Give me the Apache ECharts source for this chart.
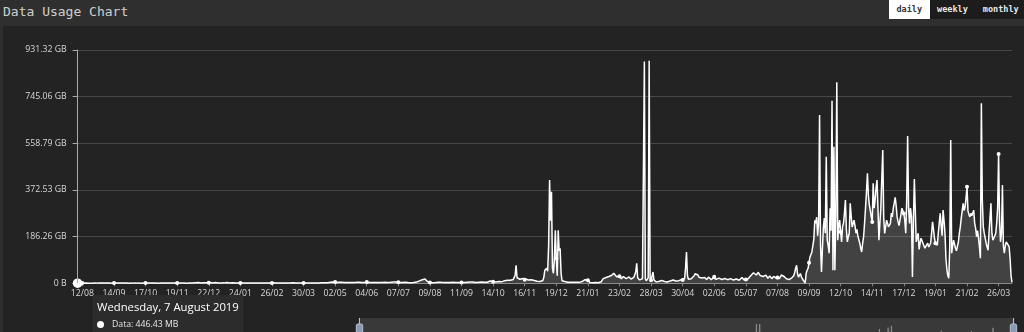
<!DOCTYPE html>
<html>
<head>
<meta charset="utf-8">
<script src="https://cdn.jsdelivr.net/npm/echarts@6/dist/echarts.min.js"></script>
<style>
html,body{margin:0;padding:0;width:1024px;height:332px;overflow:hidden;background:#2f2f2f;}
#title{position:absolute;left:3px;top:4px;font:13px 'DejaVu Sans Mono',monospace;color:#cfcfcf;line-height:15px;white-space:pre;}
#btns{position:absolute;left:889px;top:0;height:19px;display:flex;background:#1c1c1c;width:200px;}
#btns span{display:block;padding:0 7.5px;font:bold 8.5px 'DejaVu Sans Mono',monospace;line-height:19px;color:#e8e8e8;}
#btns span.on{background:#fff;color:#333;}
#chart{position:absolute;left:3px;top:26px;width:1021px;height:345px;background:#232323;}
</style>
</head>
<body>
<div id="title">Data Usage Chart</div>
<div id="btns"></div>
<div id="chart"></div>
<script>
// ---- data ----
const chartTitle = 'Data Usage Chart';
const periodButtons = ['daily', 'weekly', 'monthly'];
const activeButton = 'daily';
const firstDay = [2019, 7, 7];          // 7 August 2019 (year, monthIndex, day)
const labelEvery = 33;                  // one axis label every 33 days
const labelFirstIndex = 5;              // first labelled day: 12/08
const yMaxBytes = 1e12;
const yStepBytes = 2e11;
const weekdayNames = ['Sunday','Monday','Tuesday','Wednesday','Thursday','Friday','Saturday'];
const monthNames = ['January','February','March','April','May','June','July','August','September','October','November','December'];
// daily usage in GiB, one value per day from 7 Aug 2019
const usageGB = [
0.43597,0.6,0.8,0.5,0.7,1.1,0.6,0.9,0.5,0.8,1.2,0.7,0.6,0.9,1.0,0.5,0.8,0.7,1.3,0.6,
0.9,0.7,0.5,1.0,0.8,0.6,1.1,0.7,0.9,0.5,0.8,1.2,0.6,0.7,1.0,0.9,0.5,0.8,0.7,1.1,
0.6,0.9,0.8,0.5,1.0,0.7,1.3,0.6,0.8,0.9,0.5,0.7,1.1,0.8,0.6,0.9,1.0,0.7,0.5,0.8,
1.2,0.6,0.9,0.7,0.8,1.0,0.5,0.7,1.1,0.9,0.6,0.8,0.7,1.3,0.5,0.9,0.8,0.6,1.0,0.7,
0.8,1.1,0.6,0.9,0.5,0.7,1.2,0.8,0.6,1.0,0.9,0.7,0.5,0.8,1.1,0.6,0.9,1.4,0.7,0.8,
1.0,0.6,0.9,1.3,0.7,0.8,1.1,0.6,1.5,0.9,0.7,1.2,0.8,1.0,0.6,1.4,0.9,1.1,0.7,1.6,
1.2,2.0,1.4,2.6,1.1,1.8,2.9,1.5,2.2,1.3,3.1,1.7,2.4,1.2,2.8,1.9,1.4,2.5,3.0,1.6,
2.1,1.3,2.7,1.8,3.2,1.5,2.3,1.1,2.9,2.0,1.4,2.6,3.3,1.7,2.2,1.2,2.8,1.9,2.4,1.5,
2.0,1.3,1.8,1.1,1.0,0.8,1.2,0.9,1.4,0.7,1.1,0.9,1.3,0.8,1.0,1.5,0.9,1.2,0.7,1.1,
0.9,1.4,1.0,0.8,1.3,1.1,0.9,1.6,1.0,0.8,1.2,1.4,0.9,1.1,1.7,1.0,1.3,0.8,1.2,1.5,
1.1,0.9,1.4,1.2,1.8,1.0,1.3,1.1,1.6,0.9,1.2,1.5,1.0,1.4,1.9,1.1,1.3,1.0,1.7,1.2,
1.4,1.1,1.6,1.3,1.0,1.8,1.2,1.5,1.1,1.4,2.0,1.3,1.6,1.2,1.5,1.9,1.3,1.1,1.7,1.4,
1.2,1.6,1.9,1.3,1.5,2.1,1.4,1.8,1.2,1.6,2.2,1.5,1.3,1.9,1.7,2.3,1.4,1.8,2.0,1.6,
2.2,1.9,2.6,3.1,4.0,3.2,4.5,5.2,6.5,4.8,3.6,4.2,3.3,3.9,2.8,3.5,4.1,3.0,3.7,2.9,
3.4,4.0,3.1,3.6,2.7,3.3,3.9,3.0,3.5,2.8,3.2,3.8,2.9,3.4,4.3,3.1,3.6,2.8,3.3,4.0,
3.5,4.6,5.4,4.1,3.2,3.8,2.9,3.4,4.0,3.1,2.7,3.5,3.0,3.7,4.2,3.3,2.8,3.6,3.1,2.6,
3.2,3.9,3.4,2.9,3.6,4.1,3.3,3.8,4.4,4.9,5.5,4.7,5.8,5.2,4.3,3.7,3.2,3.8,2.9,3.4,
3.0,3.6,4.2,3.1,2.7,3.3,3.9,3.0,2.5,3.4,2.8,3.5,3.1,4.0,4.8,5.9,7.5,9.8,13,11.5,
14,16.5,15,16.8,12,8.5,5.0,3.8,3.2,2.9,3.5,2.6,3.1,3.7,2.8,4.2,3.4,4.6,5.6,4.9,
3.9,3.3,2.8,3.4,3.0,2.6,3.3,2.9,3.6,3.1,2.7,3.4,3.9,3.2,2.8,3.5,3.0,2.6,3.3,3.8,
3.1,3.6,4.1,3.4,2.9,3.3,3.8,4.5,3.7,4.2,4.9,5.6,6.0,5.1,4.4,3.8,3.3,4.0,3.5,4.3,
4.8,4.1,5.3,6.2,5.0,4.4,5.6,4.7,4.1,5.0,6.8,9.5,12,8.4,6.5,5.3,4.6,5.5,4.9,6.2,
7.0,8.2,6.4,5.8,7.6,9.4,10.5,11.8,10.2,12.4,11,9.6,12.2,13.5,11.4,14.8,18.5,32,72,22,
17.5,19,16.2,18.4,21,19.5,16,14.2,17,19.2,15.5,13,16.4,18.8,14.5,12.2,15,11.5,9,10.8,
8.2,6.5,9.0,7.4,5.6,8.1,11,24,52,45,60,48,150,412,250,365,60,40,95,212,
100,30,212,130,140,40,10,6.5,5.2,7.0,4.8,5.5,4.1,6.2,5.0,3.8,4.6,5.9,4.3,3.6,
5.1,4.4,6.0,4.9,3.7,5.3,4.2,6.8,8.5,11,14.5,17,18.5,12,6.0,3.5,2.8,3.3,2.6,3.0,
2.7,3.4,2.9,3.6,2.5,3.1,4.0,6.5,12,18.5,22,25.5,23,26.5,24,27,25,28.5,32,36,
40,38.5,33,26,21,24.5,28,22,18.5,23.5,27,31,24,19,16.5,21,25.5,20,17,22.5,
19,24,30,45,80,22,16,13.5,17,14,18,16.5,885,18,10,14,22,888,20,12,
16,45,14,8.5,6.0,9.5,12,7.5,5.5,8.0,11.5,14.5,10,7.0,9.0,6.5,5.0,8.5,12.5,9.5,
7.0,10.5,13,8.0,6.0,9.0,11,14,10.5,8.5,12,15,13,10,18,60,125,30,16,13,
15.5,18,14,22,30,38,35,40,33,24,19,16.5,21,25,28.5,23,18,15,20,24.5,
22,17.5,14,19,23,26.5,21.5,16,13.5,17.5,20.5,24,19.5,15,12,16.5,19,22.5,18,14.5,
11.5,15,18.5,21,16.5,13,10.5,14.5,17,20,15.5,12,16,19.5,23,18.5,14,11,15.5,13,
17,21.5,25,29,34,38,42,45,39,33,36.5,44,40.5,31,26,30.5,27,22.5,28,32.5,
25.5,20,24.5,29.5,23,18.5,22,27.5,31,24,19.5,23.5,17,19,26,33,39,35,27,22,
19,24.5,18,14.5,12,17,22,25,30,42,60,72,38,25,32,39,26,19,12,6.0,
1.0,40,52,60,82,105,98,125,132,175,252,240,264,190,240,672,150,45,140,225,
260,200,505,172,150,120,300,210,729,52,545,52,280,803,172,230,252,205,165,225,
240,280,332,215,165,185,200,319,270,225,238,252,230,200,215,190,186,160,140,125,
160,186,240,300,365,439,350,312,290,265,245,399,300,332,380,412,300,172,240,300,
420,532,260,199,225,252,240,225,232,239,280,265,300,320,343,310,265,245,230,252,
275,300,290,279,252,200,330,588,300,239,300,265,25,250,416,290,165,185,200,135,
160,180,170,160,150,140,148,152,160,145,150,160,200,245,215,180,160,155,152,200,
240,279,230,190,292,250,200,99,55,30,20,150,572,120,150,172,165,140,130,148,
165,200,225,260,290,319,290,305,340,385,290,275,265,279,270,265,292,240,220,186,
210,180,145,100,719,330,225,200,180,160,145,132,200,260,319,200,172,180,190,199,
240,300,516,250,165,200,392,150,120,150,165,172,160,146,99,30,4
];
// ---- end data ----

document.getElementById('title').textContent = chartTitle;
const btns = document.getElementById('btns');
periodButtons.forEach(b => {
  const s = document.createElement('span');
  s.textContent = b;
  if (b === activeButton) s.className = 'on';
  btns.appendChild(s);
});

const GiB = 1024 * 1024 * 1024;
const MiB = 1024 * 1024;
const dayMs = 86400000;
const t0 = Date.UTC(firstDay[0], firstDay[1], firstDay[2]);
const categories = usageGB.map((_, i) => new Date(t0 + i * dayMs).toISOString().slice(0, 10));
const seriesBytes = usageGB.map(g => g * GiB);
const isLabelled = (i) => i % labelEvery === labelFirstIndex;
const pad2 = n => (n < 10 ? '0' : '') + n;
function fmtBytes(v) {
  if (v === 0) return '0 B';
  if (v < GiB) return (v / MiB).toFixed(2) + ' MB';
  return (v / GiB).toFixed(2) + ' GB';
}
const FONT = "'Open Sans', 'Noto Sans', sans-serif";

const chart = echarts.init(document.getElementById('chart'), null, { renderer: 'canvas' });
chart.setOption({
  animation: false,
  backgroundColor: '#232323',
  grid: { left: 74.6, right: 12, top: 24, height: 233.3, containLabel: false, outerBoundsMode: 'none' },
  xAxis: {
    type: 'category',
    data: categories,
    boundaryGap: false,
    axisLine: { show: true, lineStyle: { color: '#888', width: 1 } },
    axisTick: { show: true, interval: isLabelled, length: 3, lineStyle: { color: '#888' } },
    axisLabel: {
      interval: isLabelled,
      margin: 6,
      color: '#d8d8d8',
      fontSize: 8.7,
      fontFamily: FONT,
      formatter: (v) => { const d = new Date(v + 'T00:00:00Z'); return pad2(d.getUTCDate()) + '/' + pad2(d.getUTCMonth() + 1); }
    },
    splitLine: { show: false }
  },
  yAxis: {
    type: 'value',
    min: 0,
    max: yMaxBytes,
    interval: yStepBytes,
    axisLine: { show: true, lineStyle: { color: '#aaa', width: 1 } },
    axisTick: { show: true, length: 5, lineStyle: { color: '#aaa' } },
    axisLabel: { margin: 11, color: '#d8d8d8', fontSize: 8.7, fontFamily: FONT, formatter: fmtBytes },
    splitLine: { show: true, lineStyle: { color: '#474747', width: 1 } }
  },
  tooltip: {
    trigger: 'axis',
    triggerOn: 'none',
    alwaysShowContent: true,
    transitionDuration: 0,
    position: [90, 269],
    padding: [4, 4],
    backgroundColor: '#2c2c2c',
    borderWidth: 0,
    extraCssText: 'box-shadow:none;border-radius:0;',
    axisPointer: { type: 'line', lineStyle: { color: '#aaa', width: 1, type: 'solid' } },
    formatter: (params) => {
      const p = params[0];
      const d = new Date(p.axisValue + 'T00:00:00Z');
      const head = weekdayNames[d.getUTCDay()] + ', ' + d.getUTCDate() + ' ' + monthNames[d.getUTCMonth()] + ' ' + d.getUTCFullYear();
      return '<div style="font-family:' + FONT.replace(/'/g, '&quot;') + ';color:#fff;">' +
        '<div style="font-size:11.3px;line-height:15px;white-space:nowrap;">' + head + '</div>' +
        '<div style="font-size:8.7px;line-height:12px;margin-top:4px;display:flex;align-items:center;white-space:nowrap;color:#e6e6e6;">' +
        '<span style="display:inline-block;width:7px;height:7px;border-radius:50%;background:#fff;margin-right:8px;"></span>' +
        'Data: ' + fmtBytes(p.value) + '</div></div>';
    }
  },
  dataZoom: [{
    type: 'slider',
    xAxisIndex: 0,
    start: 0,
    end: 100,
    left: 353,
    right: 12,
    top: 292,
    height: 32,
    backgroundColor: 'rgba(0,0,0,0)',
    borderColor: 'rgba(0,0,0,0)',
    fillerColor: 'rgba(255,255,255,0.1)',
    dataBackground: { lineStyle: { color: '#888', width: 0.6 }, areaStyle: { color: '#555', opacity: 0.5 } },
    selectedDataBackground: { lineStyle: { color: '#9a9a9a', width: 0.6 }, areaStyle: { color: '#666', opacity: 0.5 } },
    handleStyle: { color: '#8d9bb2', borderColor: '#b4c0d2' },
    moveHandleSize: 0,
    showDetail: false,
    brushSelect: false
  }],
  series: [{
    type: 'line',
    name: 'Data',
    data: seriesBytes,
    symbol: 'circle',
    symbolSize: 4,
    showSymbol: true,
    showAllSymbol: 'auto',
    lineStyle: { color: '#fff', width: 1.5 },
    itemStyle: { color: '#fff' },
    areaStyle: { color: 'rgba(255,255,255,0.2)' },
    emphasis: { scale: 2.4, lineStyle: { width: 1.5 } }
  }]
});
chart.dispatchAction({ type: 'showTip', seriesIndex: 0, dataIndex: 0 });
</script>
</body>
</html>
